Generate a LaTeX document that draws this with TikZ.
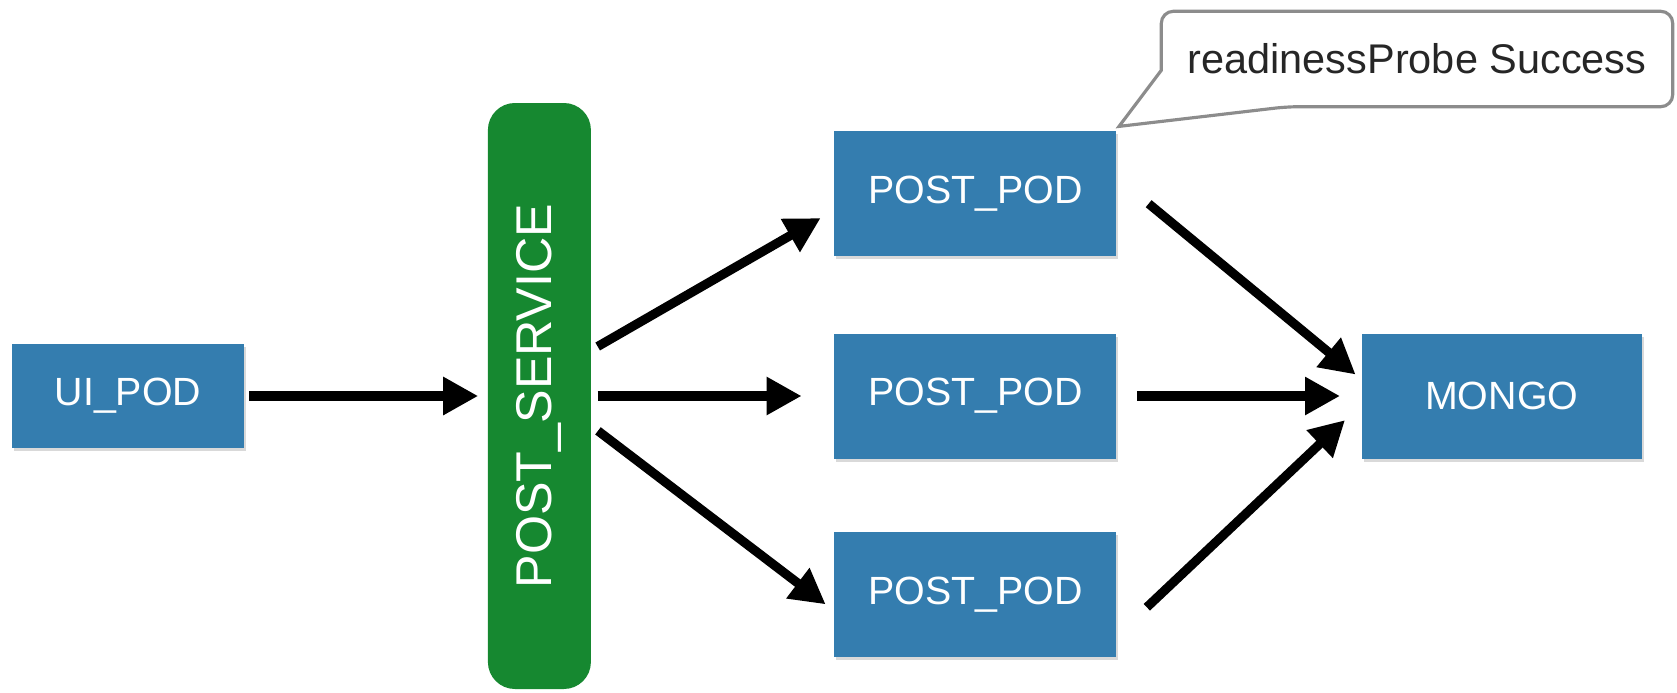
\documentclass[tikz,border=0pt]{standalone}
\usepackage{fontspec}
\setmainfont{Liberation Sans}
\usetikzlibrary{arrows.meta,positioning,shadows}
\definecolor{podblue}{RGB}{52,125,175}
\definecolor{svcgreen}{RGB}{22,136,48}
\definecolor{notegray}{RGB}{140,140,140}
\tikzset{
  >={Triangle[length=3.5mm,width=3.6mm]},
  pod/.style={
    rectangle, fill=podblue, text=white, align=center, inner sep=0pt,
    font=\fontsize{11.2}{13}\selectfont, minimum width=28.2mm, minimum height=12.5mm,
    drop shadow={shadow xshift=0.2mm, shadow yshift=-0.3mm, opacity=0.3}
  },
  service/.style={
    rectangle, rounded corners=2.7mm, fill=svcgreen, text=white, inner sep=0pt,
    font=\fontsize{14.3}{16}\selectfont, minimum width=10.3mm, minimum height=58.6mm
  },
  note/.style={
    rectangle, inner sep=0pt, text=black!85, font=\fontsize{11.8}{14}\selectfont,
    minimum width=51mm, minimum height=9.4mm
  },
  noteline/.style={draw=notegray, line width=0.9pt},
  flow/.style={->, line width=2.6pt},
}
\begin{document}
\begin{tikzpicture}
  \useasboundingbox (0,0) rectangle (16.77,6.92);
  \node[pod, minimum width=23.1mm, minimum height=10.4mm] (ui) at (1.28,2.96) {UI\_POD};
  \node[service, right=24.3mm of ui] (svc) {\rotatebox{90}{POST\_SERVICE}};
  \node[pod, right=24.2mm of svc] (pp2) {POST\_POD};
  \node[pod, above=7.6mm of pp2] (pp1) {POST\_POD};
  \node[pod, below=7.2mm of pp2] (pp3) {POST\_POD};
  \node[pod, minimum width=28mm, right=24.4mm of pp2] (mongo) {MONGO};

  \draw[flow, shorten <=0.5mm, shorten >=0.9mm] (ui) -- (svc);
  \draw[flow, shorten <=0.7mm, shorten >=1.5mm] ([yshift=4.6mm]svc.east) -- ([yshift=-1.7mm]pp1.west);
  \draw[flow, shorten <=0.6mm, shorten >=3.2mm] (svc) -- (pp2);
  \draw[flow, shorten <=0.8mm, shorten >=1mm] ([yshift=-3mm]svc.east) -- ([yshift=-1.6mm]pp3.west);
  \draw[flow, shorten <=4.1mm, shorten >=0.7mm] ([yshift=1.6mm]pp1.east) -- ([yshift=1.7mm]mongo.west);
  \draw[flow, shorten <=2mm, shorten >=2.1mm] (pp2) -- (mongo);
  \draw[flow, shorten <=4.1mm, shorten >=2.2mm] ([yshift=-4.1mm]pp3.east) -- ([yshift=-0.9mm]mongo.west);

  % callout over the first pod
  \node[note] (probe) at (14.17,6.33) {readinessProbe Success};
  \coordinate (tip) at ([xshift=0.2mm,yshift=0.4mm]pp1.north east);
  \draw[noteline] (tip) -- ([yshift=-5.9mm]probe.north west)
    [rounded corners=1.2mm] -- (probe.north west) -- (probe.north east)
    -- (probe.south east) -- ([xshift=12.6mm]probe.south west)
    [sharp corners] -- cycle;
\end{tikzpicture}
\end{document}
